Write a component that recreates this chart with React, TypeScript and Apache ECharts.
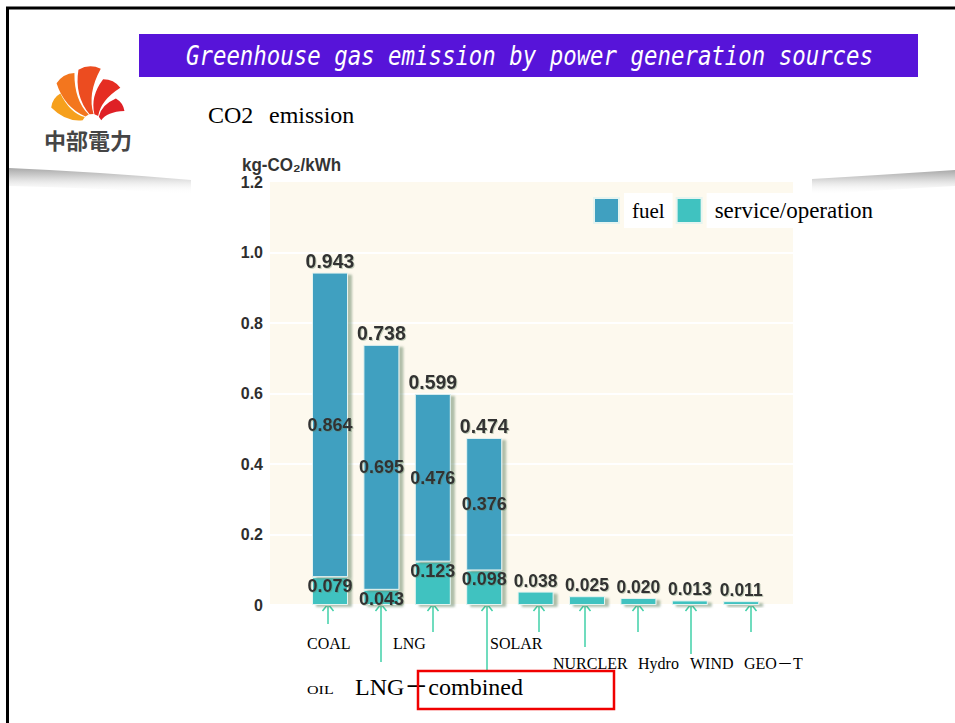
import React, { useEffect, useRef } from 'react';
import * as echarts from 'echarts';

// ---------- data ----------
const categories = ['COAL', 'OIL', 'LNG', 'LNG－combined', 'SOLAR', 'NURCLER', 'Hydro', 'WIND', 'GEO－T'];
const fuelValues = [0.864, 0.695, 0.476, 0.376, 0, 0, 0, 0, 0];
const serviceValues = [0.079, 0.043, 0.123, 0.098, 0.038, 0.025, 0.02, 0.013, 0.011];
const totalValues = [0.943, 0.738, 0.599, 0.474, 0.038, 0.025, 0.02, 0.013, 0.011];
const legendNames = ['fuel', 'service/operation'];
const titleText = 'Greenhouse gas emission by power generation sources';
const headingWords = ['CO2', 'emission'];
const yAxisUnit = 'kg-CO₂/kWh';
const logoText = '中部電力';

// ---------- layout (annotation positions, not data) ----------
const catLabelLayout = [
  { x: 307, y: 643, size: 16, sy: 1 },
  { x: 307, y: 690, size: 16, sy: 0.72 },
  { x: 393, y: 643, size: 16, sy: 1 },
  { x: 355, y: 687, size: 24, sy: 1 },
  { x: 490, y: 643, size: 16, sy: 1 },
  { x: 553, y: 663, size: 16, sy: 1 },
  { x: 638, y: 663, size: 16, sy: 1 },
  { x: 690, y: 663, size: 16, sy: 1 },
  { x: 744, y: 663, size: 16, sy: 1 },
];
const arrowLayout = [
  [328, 624], [381, 662], [433, 632], [487, 670], [539, 632],
  [585, 647], [638, 632], [691, 654], [751, 632],
];

const SERIF = "'Liberation Serif', 'Times New Roman', 'Noto Sans CJK JP', serif";
const SANS = "'Liberation Sans', Arial, 'DejaVu Sans', sans-serif";
const MONO = "'DejaVu Sans Mono', monospace";

const BLUE = '#40a0c0';
const TEAL = '#40c2c0';
const ARROW = '#40d0a8';

// ---------- shapes ----------
const petals: [number, number, number, string][] = [
  [136, 158, 44, '#f6a01c'],
  [109, 131, 54, '#f3761e'],
  [81, 104, 56, '#ec4c20'],
  [52, 76, 46, '#e52d22'],
  [22, 47, 35, '#df2026'],
];
function petalPath(cx: number, cy: number, a1: number, a2: number, r: number, swirl: number) {
  const pt = (a: number, rr: number) => [cx + rr * Math.cos((a * Math.PI) / 180), cy - rr * Math.sin((a * Math.PI) / 180)];
  const [s1x, s1y] = pt(a1, 10);
  const [s2x, s2y] = pt(a2, 10);
  const [x1, y1] = pt(a1, r);
  const [x2, y2] = pt(a2, r);
  const [c1x, c1y] = pt(a1 + swirl, r * 0.55);
  const [c2x, c2y] = pt(a2 + swirl, r * 0.6);
  const [ox, oy] = pt((a1 + a2) / 2, r * 1.08);
  const f = (n: number) => n.toFixed(2);
  return `M${f(s1x)},${f(s1y)} Q${f(c1x)},${f(c1y)} ${f(x1)},${f(y1)} Q${f(ox)},${f(oy)} ${f(x2)},${f(y2)} Q${f(c2x)},${f(c2y)} ${f(s2x)},${f(s2y)} Z`;
}
petals.forEach((p, i) => {
  echarts.graphic.registerShape('petal' + i, echarts.graphic.extendPath(petalPath(92, 124, p[0], p[1], p[2], 18), {}));
});
echarts.graphic.registerShape('swooshL', echarts.graphic.extendPath('M9,168 Q100,172 191,180 L191,194 Q100,188 9,186 Z', {}));
echarts.graphic.registerShape('swooshR', echarts.graphic.extendPath('M812,179 Q880,175 955,170 L955,186 Q880,190 812,195 Z', {}));

const swooshFill = {
  type: 'linear', x: 0, y: 0, x2: 0, y2: 1,
  colorStops: [
    { offset: 0, color: '#a9a9a9' },
    { offset: 0.35, color: '#d4d4d4' },
    { offset: 1, color: 'rgba(255,255,255,0)' },
  ],
};

const labelFont = {
  fontFamily: SANS,
  fontWeight: 'bold' as const,
  color: '#333',
  textShadowColor: 'rgba(90,120,90,0.35)',
  textShadowBlur: 1,
  textShadowOffsetX: 1,
  textShadowOffsetY: 1,
};
const barShadow = {
  shadowColor: 'rgba(100,130,100,0.5)',
  shadowBlur: 2,
  shadowOffsetX: 4,
  shadowOffsetY: 2,
};

function buildGraphic() {
  const els: any[] = [];
  els.push({ type: 'swooshL', x: 0, y: 0, scaleX: 1, scaleY: 1, style: { fill: swooshFill } });
  els.push({ type: 'swooshR', x: 0, y: 0, scaleX: 1, scaleY: 1, style: { fill: swooshFill } });
  // slide border
  els.push({ type: 'line', shape: { x1: 6, y1: 8, x2: 955, y2: 8 }, style: { stroke: '#000', lineWidth: 3 } });
  els.push({ type: 'line', shape: { x1: 7.5, y1: 7, x2: 7.5, y2: 723 }, style: { stroke: '#000', lineWidth: 3 } });
  // title banner
  els.push({ type: 'rect', shape: { x: 139, y: 34, width: 779, height: 43 }, style: { fill: '#5714d9' } });
  els.push({
    type: 'text', x: 529.5, y: 56, scaleX: 0.861,
    style: {
      text: titleText, fontSize: 26, fontFamily: MONO, fontStyle: 'italic', fill: '#fff',
      align: 'center', verticalAlign: 'middle', textAlign: 'center', textVerticalAlign: 'middle',
    },
  });
  // logo
  petals.forEach((p, i) => {
    els.push({ type: 'petal' + i, x: 0, y: 0, scaleX: 1, scaleY: 1, style: { fill: p[3] } });
  });
  els.push({
    type: 'text', x: 88, y: 139,
    style: {
      text: logoText, fontSize: 22, fontFamily: "'Noto Sans CJK JP', sans-serif", fontWeight: 'bold', fill: '#454545',
      align: 'center', verticalAlign: 'middle', textAlign: 'center', textVerticalAlign: 'middle',
    },
  });
  // heading
  els.push({
    type: 'text', x: 208, y: 115,
    style: { text: headingWords[0], fontSize: 24, fontFamily: SERIF, fill: '#000', align: 'left', verticalAlign: 'middle', textAlign: 'left', textVerticalAlign: 'middle' },
  });
  els.push({
    type: 'text', x: 269, y: 115,
    style: { text: headingWords[1], fontSize: 24, fontFamily: SERIF, fill: '#000', align: 'left', verticalAlign: 'middle', textAlign: 'left', textVerticalAlign: 'middle' },
  });
  // y unit
  els.push({
    type: 'text', x: 242, y: 165, scaleY: 1.12,
    style: { text: yAxisUnit, fontSize: 17, fontWeight: 'bold', fontFamily: SANS, fill: '#333', align: 'left', verticalAlign: 'middle', textAlign: 'left', textVerticalAlign: 'middle' },
  });
  // arrows
  arrowLayout.forEach(([x, yb]) => {
    els.push({ type: 'line', shape: { x1: x, y1: 604, x2: x, y2: yb }, style: { stroke: ARROW, lineWidth: 1.5 } });
    els.push({ type: 'polyline', shape: { points: [[x - 5.5, 611], [x, 604], [x + 5.5, 611]] }, style: { stroke: ARROW, lineWidth: 1.5, fill: null } });
  });
  // category labels
  categories.forEach((c, i) => {
    const l = catLabelLayout[i];
    els.push({
      type: 'text', x: l.x, y: l.y, scaleY: l.sy,
      style: { text: c, fontSize: l.size, fontFamily: SERIF, fill: '#000', align: 'left', verticalAlign: 'middle', textAlign: 'left', textVerticalAlign: 'middle' },
    });
  });
  // red box
  els.push({ type: 'rect', shape: { x: 418, y: 671, width: 196, height: 38 }, style: { fill: null, stroke: '#f00000', lineWidth: 2.5 } });
  return els;
}

export default function App() {
  const ref = useRef<HTMLDivElement>(null);
  useEffect(() => {
    if (!ref.current) return;
    const chart = echarts.init(ref.current, undefined, { renderer: 'svg' });
    const option: any = {
      animation: false,
      backgroundColor: '#fff',
      grid: [
        { left: 270, top: 182, width: 523, height: 423, show: true, backgroundColor: '#fdf9ee', borderWidth: 0 },
        { left: 304.3, top: 182, width: 462.6, height: 423 },
      ],
      xAxis: [
        { gridIndex: 0, type: 'value', min: 0, max: 1, show: false },
        { gridIndex: 1, type: 'category', data: categories, show: false },
      ],
      yAxis: [
        {
          gridIndex: 0, type: 'value', min: 0, max: 1.2, interval: 0.2,
          axisLine: { show: false }, axisTick: { show: false },
          splitLine: { show: true, showMaxLine: false, lineStyle: { color: '#ffffff', width: 2 } },
          axisLabel: {
            fontSize: 16, fontWeight: 'bold', color: '#2e2e2e', margin: 7, fontFamily: SANS,
            formatter: (v: number) => (v === 0 ? '0' : v.toFixed(1)),
          },
        },
        { gridIndex: 1, type: 'value', min: 0, max: 1.2, show: false, splitLine: { show: false } },
      ],
      legend: {
        left: 593, top: 193, padding: 0, itemGap: 3, itemWidth: 25, itemHeight: 25,
        selectedMode: false, icon: 'rect',
        data: [
          { name: legendNames[0], textStyle: { fontSize: 21 } },
          { name: legendNames[1], textStyle: { fontSize: 23 } },
        ],
        textStyle: { fontFamily: SERIF, color: '#000', backgroundColor: '#fff', padding: [5, 8], lineHeight: 25 },
      },
      series: [
        {
          name: legendNames[1], type: 'bar', stack: 'e', xAxisIndex: 1, yAxisIndex: 1, barWidth: 36,
          itemStyle: { color: TEAL, borderColor: '#e6f4f0', borderWidth: 1, ...barShadow },
          label: { show: true, position: 'insideTop', distance: 0, fontSize: 18, ...labelFont, formatter: (p: any) => Number(p.value).toFixed(3) },
          data: serviceValues.map((v, i) => (fuelValues[i] > 0 ? v : { value: v, label: { show: false } })),
        },
        {
          name: legendNames[0], type: 'bar', stack: 'e', xAxisIndex: 1, yAxisIndex: 1, barWidth: 36,
          itemStyle: { color: BLUE, borderColor: '#e6f4f0', borderWidth: 1, ...barShadow },
          label: { show: true, position: 'inside', fontSize: 18, ...labelFont, formatter: (p: any) => Number(p.value).toFixed(3) },
          data: fuelValues.map((v) => (v > 0 ? v : '-')),
        },
        {
          name: 'total', type: 'bar', xAxisIndex: 1, yAxisIndex: 1, barWidth: 36, barGap: '-100%', silent: true,
          itemStyle: { color: 'rgba(0,0,0,0)' },
          label: { show: true, position: 'top', distance: 2, ...labelFont, formatter: (p: any) => Number(p.value).toFixed(3) },
          data: totalValues.map((v, i) => ({ value: v, label: { fontSize: fuelValues[i] > 0 ? 19.5 : 17.5 } })),
        },
      ],
      graphic: { elements: buildGraphic() },
    };
    chart.setOption(option);
    return () => chart.dispose();
  }, []);
  return <div ref={ref} style={{ position: 'fixed', left: 0, top: 0, width: 955, height: 723, background: '#fff' }} />;
}
